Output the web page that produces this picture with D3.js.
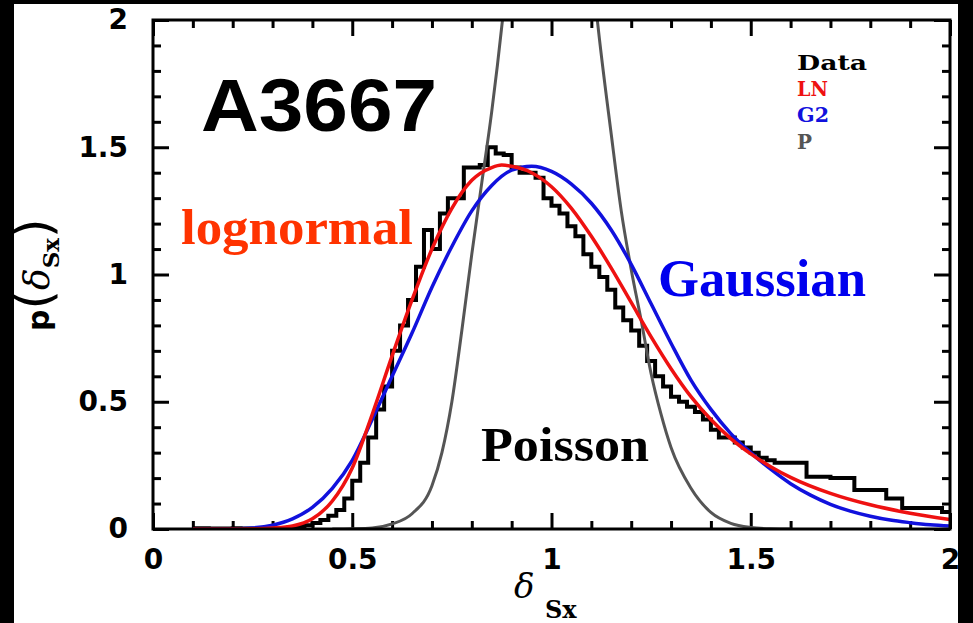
<!DOCTYPE html>
<html><head><meta charset="utf-8">
<script src="https://cdn.jsdelivr.net/npm/d3@7"></script>
<style>body{margin:0;background:#000}svg{display:block}</style>
</head><body>
<svg id="c" width="973" height="623"></svg>
<script>
// ---------------- data ----------------
const xDomain = [0, 2];
const yDomain = [0, 2];
const xTickValues = [0, 0.5, 1, 1.5, 2];
const xTickLabels = ["0", "0.5", "1", "1.5", "2"];
const yTickValues = [0, 0.5, 1, 1.5, 2];
const yTickLabels = ["0", "0.5", "1", "1.5", "2"];
const minorStep = 0.1;

// histogram (Data): bins of 0.02 starting at 0.10
const histStart = 0.10;
const histWidth = 0.02;
const histValues = [
  0.003,0.003,0.002,0.002,0.002,0.003,0.002,0.002,0.002,0.003,
  0.003,0.004,0.006,0.010,0.015,0.024,0.035,0.052,0.075,0.12,
  0.19,0.26,0.36,0.47,0.56,0.70,0.80,0.90,1.03,1.175,
  1.10,1.24,1.30,1.30,1.42,1.42,1.43,1.50,1.475,1.47,
  1.42,1.40,1.40,1.38,1.30,1.27,1.24,1.19,1.15,1.08,
  1.03,0.99,0.94,0.87,0.82,0.78,0.72,0.66,0.60,0.56,
  0.52,0.50,0.48,0.46,0.43,0.39,0.36,0.36,0.34,0.32,
  0.30,0.28,0.27,0.26,0.26,0.26,0.26,0.205,0.205,0.205,
  0.20,0.20,0.20,0.153,0.153,0.153,0.153,0.12,0.12,0.083,
  0.083,0.083,0.083,0.083,0.067
];

// lognormal fit (LN)
const lnX = [0.10,0.20,0.25,0.30,0.35,0.40,0.45,0.50,0.55,0.60,0.65,0.70,0.75,0.80,0.85,0.875,0.90,0.95,1.00,1.05,1.10,1.15,1.20,1.25,1.30,1.35,1.40,1.45,1.50,1.55,1.60,1.70,1.80,1.90,2.00];
const lnY = [0,0,0.001,0.004,0.012,0.04,0.11,0.24,0.45,0.68,0.90,1.10,1.26,1.37,1.42,1.43,1.425,1.40,1.345,1.26,1.15,1.025,0.89,0.755,0.63,0.52,0.43,0.355,0.295,0.245,0.203,0.14,0.095,0.062,0.037];

// Gaussian fit (G2)
const g2X = [0.10,0.20,0.25,0.30,0.35,0.40,0.45,0.50,0.55,0.60,0.65,0.70,0.75,0.80,0.85,0.90,0.95,1.00,1.05,1.10,1.15,1.20,1.25,1.30,1.35,1.40,1.45,1.50,1.55,1.60,1.65,1.70,1.75,1.80,1.85,1.90,1.95,2.00];
const g2Y = [0,0.001,0.004,0.015,0.04,0.085,0.16,0.27,0.43,0.60,0.77,0.95,1.11,1.25,1.35,1.41,1.425,1.405,1.355,1.28,1.175,1.04,0.885,0.73,0.585,0.47,0.375,0.30,0.235,0.178,0.133,0.097,0.07,0.05,0.035,0.025,0.017,0.012];

// Poisson (P): two visible branches, the peak is above the frame
const pX = [0.45,0.50,0.55,0.60,0.65,0.70,0.725,0.75,0.775,0.80,0.825,0.85,0.877,0.885, null, 1.107,1.115,1.15,1.175,1.20,1.225,1.25,1.275,1.30,1.35,1.40,1.45,1.50,1.55,1.60];
const pY = [0,0.001,0.004,0.02,0.06,0.17,0.30,0.50,0.78,1.08,1.36,1.64,2.0,2.12, null, 2.12,2.0,1.55,1.25,1.02,0.82,0.61,0.45,0.32,0.16,0.065,0.022,0.006,0.001,0];

const legendNames = ["Data","LN","G2","P"];
const legendColors = ["#000000","#ee1111","#1111dd","#555555"];
const legendWidths = [70, 31, 32, 15];

// ---------------- drawing ----------------
const svg = d3.select("#c");
const W = 973, H = 623;
const L = 153, R = 950, T = 20, B = 529;

svg.append("rect").attr("width",W).attr("height",H).attr("fill","#000");
svg.append("rect").attr("x",14).attr("y",4).attr("width",944).attr("height",H-4).attr("fill","#fff");

const x = d3.scaleLinear().domain(xDomain).range([L,R]);
const y = d3.scaleLinear().domain(yDomain).range([B,T]);

svg.append("clipPath").attr("id","plotclip")
  .append("rect").attr("x",L).attr("y",T).attr("width",R-L).attr("height",B-T);

const minorVals = d3.range(0, 2.0001, minorStep).filter(v => Math.abs(v*2 - Math.round(v*2)) > 1e-6);

function styleAxis(g){
  g.select(".domain").remove();
  g.selectAll(".tick line").attr("stroke","#000").attr("stroke-width",3);
}
const tickFont = "'DejaVu Sans', sans-serif";

// bottom
svg.append("g").attr("transform",`translate(0,${B})`)
  .call(d3.axisBottom(x).tickValues(xTickValues).tickFormat((d,i)=>xTickLabels[i]).tickSizeInner(-16).tickSizeOuter(0).tickPadding(20))
  .call(styleAxis)
  .call(g=>g.selectAll("text").attr("font-family",tickFont).attr("font-weight","bold").attr("font-size",28).attr("fill","#000"));
svg.append("g").attr("transform",`translate(0,${B})`)
  .call(d3.axisBottom(x).tickValues(minorVals).tickFormat("").tickSizeInner(-8).tickSizeOuter(0))
  .call(styleAxis);
// top
svg.append("g").attr("transform",`translate(0,${T})`)
  .call(d3.axisTop(x).tickValues(xTickValues).tickFormat("").tickSizeInner(-16).tickSizeOuter(0))
  .call(styleAxis);
svg.append("g").attr("transform",`translate(0,${T})`)
  .call(d3.axisTop(x).tickValues(minorVals).tickFormat("").tickSizeInner(-8).tickSizeOuter(0))
  .call(styleAxis);
// left
svg.append("g").attr("transform",`translate(${L},0)`)
  .call(d3.axisLeft(y).tickValues(yTickValues).tickFormat((d,i)=>yTickLabels[i]).tickSizeInner(-16).tickSizeOuter(0).tickPadding(25))
  .call(styleAxis)
  .call(g=>g.selectAll("text").attr("font-family",tickFont).attr("font-weight","bold").attr("font-size",28).attr("fill","#000"));
svg.append("g").attr("transform",`translate(${L},0)`)
  .call(d3.axisLeft(y).tickValues(minorVals).tickFormat("").tickSizeInner(-8).tickSizeOuter(0))
  .call(styleAxis);
// right
svg.append("g").attr("transform",`translate(${R},0)`)
  .call(d3.axisRight(y).tickValues(yTickValues).tickFormat("").tickSizeInner(-16).tickSizeOuter(0))
  .call(styleAxis);
svg.append("g").attr("transform",`translate(${R},0)`)
  .call(d3.axisRight(y).tickValues(minorVals).tickFormat("").tickSizeInner(-8).tickSizeOuter(0))
  .call(styleAxis);

// curves
const plot = svg.append("g").attr("clip-path","url(#plotclip)");

const histPts = histValues.map((v,i)=>[histStart + i*histWidth, v]);
histPts.push([histStart + histValues.length*histWidth, histValues[histValues.length-1]]);
plot.append("path").datum(histPts)
  .attr("d", d3.line().x(d=>x(d[0])).y(d=>y(d[1])).curve(d3.curveStepAfter))
  .attr("fill","none").attr("stroke","#000").attr("stroke-width",4).attr("stroke-linejoin","miter");

const lineGen = d3.line().defined(d=>d[0]!==null).x(d=>x(d[0])).y(d=>y(d[1])).curve(d3.curveMonotoneX);

plot.append("path").datum(pX.map((v,i)=>[v,pY[i]]))
  .attr("d", lineGen).attr("fill","none").attr("stroke","#555555").attr("stroke-width",3);
plot.append("path").datum(g2X.map((v,i)=>[v,g2Y[i]]))
  .attr("d", lineGen).attr("fill","none").attr("stroke","#1111dd").attr("stroke-width",3.5);
plot.append("path").datum(lnX.map((v,i)=>[v,lnY[i]]))
  .attr("d", lineGen).attr("fill","none").attr("stroke","#ee1111").attr("stroke-width",3.5);

// frame
svg.append("rect").attr("x",L).attr("y",T).attr("width",R-L).attr("height",B-T)
  .attr("fill","none").attr("stroke","#000").attr("stroke-width",3);

// legend
const leg = svg.append("g");
legendNames.forEach((n,i)=>{
  leg.append("text").attr("x",797).attr("y",70 + i*26.2)
    .attr("font-family","'DejaVu Serif', serif").attr("font-weight","bold").attr("font-size",21)
    .attr("textLength",legendWidths[i]).attr("lengthAdjust","spacingAndGlyphs")
    .attr("fill",legendColors[i]).text(n);
});

// annotations
svg.append("text").attr("x",201).attr("y",131).attr("font-family","'Liberation Sans', Arial, sans-serif")
  .attr("font-weight","bold").attr("font-size",75).attr("textLength",236).attr("lengthAdjust","spacingAndGlyphs")
  .attr("fill","#000").text("A3667");
svg.append("text").attr("x",181).attr("y",244).attr("font-family","'Liberation Serif', 'Times New Roman', serif")
  .attr("font-weight","bold").attr("font-size",50).attr("textLength",232).attr("lengthAdjust","spacingAndGlyphs")
  .attr("fill","#ff3300").text("lognormal");
svg.append("text").attr("x",658).attr("y",296).attr("font-family","'Liberation Serif', 'Times New Roman', serif")
  .attr("font-weight","bold").attr("font-size",53).attr("textLength",208).attr("lengthAdjust","spacingAndGlyphs")
  .attr("fill","#0000ee").text("Gaussian");
svg.append("text").attr("x",481).attr("y",461).attr("font-family","'Liberation Serif', 'Times New Roman', serif")
  .attr("font-weight","bold").attr("font-size",48).attr("textLength",168).attr("lengthAdjust","spacingAndGlyphs")
  .attr("fill","#000").text("Poisson");

// axis titles
const xt = svg.append("text").attr("x",514).attr("y",598).attr("fill","#000");
xt.append("tspan").attr("font-family","'DejaVu Serif', serif").attr("font-style","italic").attr("font-size",34).text("δ");
xt.append("tspan").attr("x",545).attr("font-family","'DejaVu Serif', serif").attr("font-weight","bold").attr("font-size",24).attr("dy",20).text("Sx");

const yt = svg.append("text").attr("transform","translate(49,331) rotate(-90)").attr("fill","#000");
yt.append("tspan").attr("font-family","'DejaVu Sans', sans-serif").attr("font-weight","bold").attr("font-size",30).text("p");
yt.append("tspan").attr("font-family","'DejaVu Sans', sans-serif").attr("font-size",50).attr("dy",2).text("(");
yt.append("tspan").attr("font-family","'DejaVu Serif', serif").attr("font-style","italic").attr("font-size",36).attr("dy",-2).text("δ");
yt.append("tspan").attr("font-family","'DejaVu Serif', serif").attr("font-weight","bold").attr("font-size",23).attr("dy",10).text("Sx");
yt.append("tspan").attr("font-family","'DejaVu Sans', sans-serif").attr("font-size",50).attr("dy",-8).text(")");
</script>
</body></html>
